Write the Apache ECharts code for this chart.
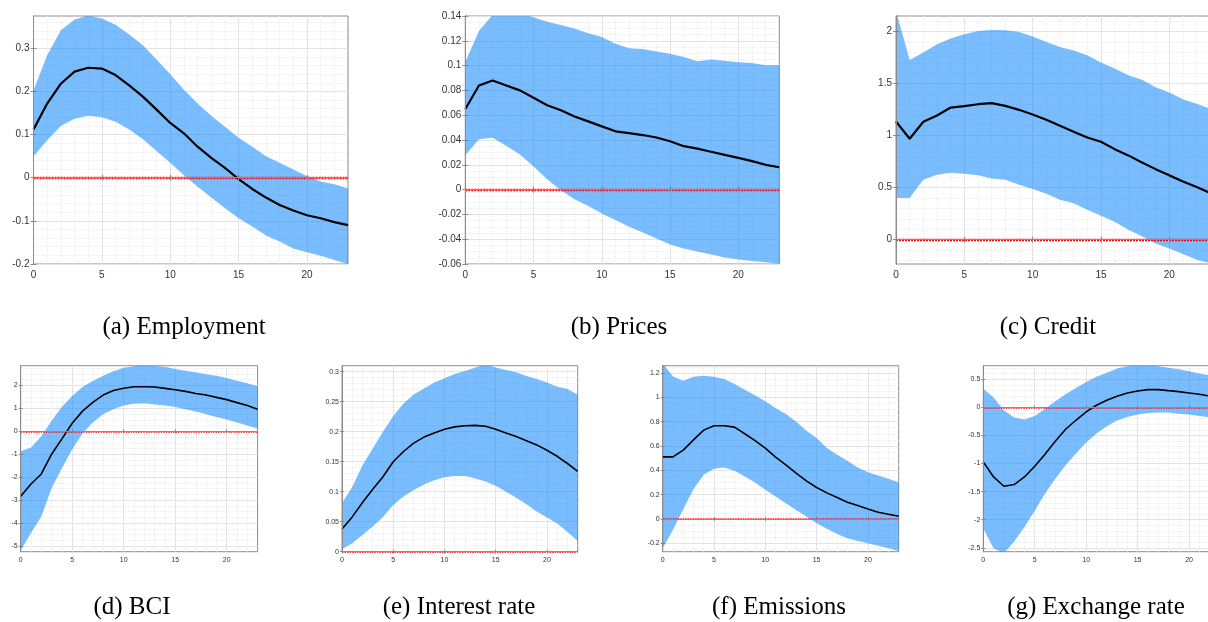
<!DOCTYPE html>
<html>
<head>
<meta charset="utf-8">
<script src="https://cdn.jsdelivr.net/npm/echarts@6/dist/echarts.min.js"></script>
<style>
html,body{margin:0;padding:0;background:#ffffff;}
#chart{width:1208px;height:622px;}
</style>
</head>
<body>
<div id="chart"></div>
<script>
// ---------------- DATA ----------------
const horizons = [0,1,2,3,4,5,6,7,8,9,10,11,12,13,14,15,16,17,18,19,20,21,22,23];
const xTickStep = 5;
const zeroLine = 0;

const employmentMean  = [0.112,0.172,0.218,0.246,0.255,0.253,0.238,0.214,0.188,0.158,0.127,0.103,0.072,0.046,0.023,-0.003,-0.026,-0.046,-0.063,-0.076,-0.087,-0.094,-0.103,-0.110];
const employmentUpper = [0.203,0.284,0.342,0.367,0.376,0.369,0.355,0.332,0.307,0.274,0.240,0.204,0.172,0.144,0.118,0.093,0.072,0.050,0.035,0.019,0.004,-0.009,-0.015,-0.025];
const employmentLower = [0.049,0.087,0.120,0.137,0.144,0.140,0.130,0.112,0.089,0.062,0.035,0.006,-0.021,-0.046,-0.071,-0.094,-0.113,-0.134,-0.148,-0.164,-0.173,-0.181,-0.191,-0.200];

const pricesMean  = [0.065,0.084,0.088,0.084,0.080,0.074,0.068,0.064,0.059,0.055,0.051,0.047,0.0456,0.044,0.042,0.039,0.035,0.033,0.0305,0.028,0.0256,0.023,0.020,0.018];
const pricesUpper = [0.103,0.128,0.141,0.143,0.142,0.139,0.1354,0.1327,0.130,0.126,0.123,0.1176,0.114,0.1133,0.1114,0.1095,0.107,0.1036,0.105,0.104,0.1028,0.102,0.1003,0.1003];
const pricesLower = [0.0278,0.0407,0.0418,0.0353,0.0283,0.0186,0.0084,-0.0005,-0.0078,-0.0132,-0.0192,-0.0245,-0.030,-0.0345,-0.0394,-0.0442,-0.0475,-0.050,-0.0523,-0.0548,-0.0564,-0.0575,-0.0585,-0.0596];

const creditMean  = [1.136,0.97,1.133,1.194,1.27,1.283,1.302,1.312,1.286,1.248,1.203,1.152,1.094,1.037,0.982,0.941,0.870,0.810,0.742,0.678,0.618,0.560,0.506,0.448];
const creditUpper = [2.2,1.728,1.80,1.878,1.933,1.974,2.006,2.016,2.013,1.997,1.952,1.90,1.853,1.818,1.773,1.702,1.645,1.58,1.536,1.466,1.414,1.35,1.306,1.258];
const creditLower = [0.40,0.40,0.576,0.624,0.643,0.634,0.618,0.589,0.576,0.528,0.486,0.442,0.384,0.349,0.288,0.230,0.173,0.096,0.032,-0.038,-0.086,-0.138,-0.192,-0.224];

const bciMean  = [-2.83,-2.30,-1.86,-1.00,-0.33,0.35,0.88,1.26,1.58,1.78,1.88,1.94,1.94,1.93,1.87,1.81,1.74,1.65,1.58,1.48,1.38,1.25,1.12,0.96];
const bciUpper = [-0.87,-0.71,-0.22,0.46,1.07,1.54,1.93,2.19,2.42,2.62,2.77,2.84,2.88,2.85,2.81,2.72,2.64,2.57,2.49,2.42,2.32,2.20,2.09,1.96];
const bciLower = [-5.2,-4.43,-3.72,-2.48,-1.61,-0.78,-0.10,0.38,0.74,0.96,1.12,1.20,1.22,1.17,1.12,1.06,0.96,0.86,0.74,0.62,0.51,0.38,0.25,0.12];

const interestMean  = [0.038,0.058,0.082,0.104,0.125,0.150,0.167,0.181,0.191,0.198,0.204,0.208,0.210,0.2106,0.209,0.204,0.198,0.192,0.185,0.178,0.169,0.159,0.147,0.134];
const interestUpper = [0.081,0.108,0.144,0.172,0.200,0.226,0.247,0.262,0.272,0.282,0.289,0.296,0.301,0.307,0.312,0.307,0.303,0.299,0.293,0.288,0.282,0.275,0.271,0.262];
const interestLower = [0.004,0.014,0.028,0.042,0.058,0.078,0.092,0.103,0.112,0.119,0.124,0.126,0.126,0.122,0.117,0.110,0.100,0.090,0.079,0.067,0.057,0.047,0.033,0.018];

const emissionsMean  = [0.51,0.51,0.566,0.65,0.73,0.766,0.766,0.755,0.70,0.643,0.582,0.508,0.445,0.376,0.313,0.258,0.214,0.176,0.137,0.11,0.082,0.055,0.038,0.022];
const emissionsUpper = [1.28,1.172,1.137,1.17,1.178,1.17,1.15,1.11,1.063,1.016,0.967,0.912,0.862,0.80,0.725,0.665,0.582,0.527,0.478,0.423,0.384,0.357,0.33,0.302];
const emissionsLower = [-0.242,-0.09,0.08,0.244,0.362,0.412,0.423,0.395,0.349,0.30,0.239,0.184,0.129,0.074,0.019,-0.036,-0.082,-0.124,-0.159,-0.181,-0.20,-0.222,-0.242,-0.264];

const exchangeMean  = [-0.972,-1.24,-1.405,-1.375,-1.24,-1.05,-0.836,-0.605,-0.391,-0.231,-0.083,0.036,0.124,0.196,0.255,0.29,0.314,0.314,0.296,0.279,0.255,0.231,0.20,0.178];
const exchangeUpper = [0.332,0.172,-0.053,-0.184,-0.219,-0.154,-0.024,0.107,0.231,0.344,0.45,0.545,0.616,0.688,0.73,0.75,0.75,0.73,0.705,0.676,0.64,0.60,0.57,0.53];
const exchangeLower = [-2.16,-2.51,-2.6,-2.39,-2.13,-1.84,-1.535,-1.27,-1.03,-0.824,-0.628,-0.468,-0.338,-0.237,-0.172,-0.13,-0.10,-0.095,-0.095,-0.113,-0.13,-0.154,-0.178,-0.20];

const captions = ['(a) Employment','(b) Prices','(c) Credit','(d) BCI','(e) Interest rate','(f) Emissions','(g) Exchange rate'];

// y-axis ranges and tick steps
const yMins  = [-0.2, -0.06, -0.234, -5.25, 0, -0.27, -2.57];
const yMaxs  = [0.375, 0.14, 2.15, 2.86, 0.31, 1.26, 0.74];
const ySteps = [0.1, 0.02, 0.5, 1, 0.05, 0.2, 0.5];
const yMinorSplits = [5, 4, 5, 4, 5, 4, 5];

const seriesSets = [
  [employmentMean, employmentUpper, employmentLower],
  [pricesMean, pricesUpper, pricesLower],
  [creditMean, creditUpper, creditLower],
  [bciMean, bciUpper, bciLower],
  [interestMean, interestUpper, interestLower],
  [emissionsMean, emissionsUpper, emissionsLower],
  [exchangeMean, exchangeUpper, exchangeLower]
];

// ---------------- LAYOUT / STYLE ----------------
const gridRects = [
  {left:33.5, top:16, width:314.5, height:248, row:0},
  {left:465.3, top:16, width:314, height:248, row:0},
  {left:896, top:16, width:314.3, height:248, row:0},
  {left:20.7, top:365.7, width:236.9, height:186, row:1},
  {left:342, top:365.7, width:235.7, height:186, row:1},
  {left:662.7, top:365.7, width:236, height:186, row:1},
  {left:983.3, top:365.7, width:236.6, height:186, row:1}
];
const captionPos = [
  {x:184, y:327.5},{x:619, y:327.5},{x:1048, y:327.5},
  {x:132, y:607},{x:459, y:607},{x:779, y:607},{x:1096, y:607}
];
const rowStyle = [
  {font:10, yMargin:4, xMargin:6, meanW:2.2, zeroW:2.4, dash:[2,1], tick:3},
  {font:7, yMargin:3, xMargin:5, meanW:1.6, zeroW:1.6, dash:[1.5,1], tick:2}
];
const bandColor = 'rgba(0,128,255,0.52)';
const boxColor = '#8c8c8c';
const majorGrid = '#e3e3e3';
const minorGrid = '#e6e6e6';
const labelColor = '#333333';
const labelFont = '"Liberation Sans", Arial, sans-serif';

function isMultiple(v, step){ const r = v/step; return Math.abs(r - Math.round(r)) < 1e-6; }
function fmt(v, step){
  if (!isMultiple(v, step)) return '';
  let s = String(parseFloat(v.toFixed(6)));
  if (s === '-0') s = '0';
  return s;
}
function multiplesIn(lo, hi, step){
  const out = [];
  for (let k = Math.ceil(lo/step - 1e-9); k*step <= hi + 1e-9; k++) out.push(parseFloat((k*step).toFixed(6)));
  return out;
}

const chart = echarts.init(document.getElementById('chart'), null, {renderer:'canvas'});
const option = {animation:false, grid:[], xAxis:[], yAxis:[], series:[], graphic:[]};
const xMin = horizons[0], xMax = horizons[horizons.length-1];
const xTicks = multiplesIn(xMin, xMax, xTickStep);

seriesSets.forEach(function(set, i){
  const mean = set[0], upper = set[1], lower = set[2];
  const g = gridRects[i];
  const st = rowStyle[g.row];
  option.grid.push({left:g.left, top:g.top, width:g.width, height:g.height, show:true,
    outerBoundsMode:'none', containLabel:false,
    borderColor:boxColor, borderWidth:1, backgroundColor:'transparent'});

  const yStep = ySteps[i];
  const yMinMult = isMultiple(yMins[i], yStep);
  const yTickCfg = yMinMult ? {interval:yStep} : {splitNumber: Math.round((yMaxs[i]-yMins[i])/yStep)};
  const yTicks = multiplesIn(yMins[i], yMaxs[i], yStep);

  // main x axis (bottom)
  option.xAxis.push({type:'value', gridIndex:i, min:xMin, max:xMax, interval:xTickStep,
    position:'bottom',
    axisLine:{show:true, lineStyle:{color:boxColor, width:1}},
    axisTick:{show:true, inside:true, length:st.tick, lineStyle:{color:boxColor}, customValues:xTicks},
    axisLabel:{show:true, margin:st.xMargin, color:labelColor, fontSize:st.font, fontFamily:labelFont,
      formatter:function(v){ return fmt(v, xTickStep); }},
    splitLine:{show:true, lineStyle:{color:majorGrid, width:1}},
    minorTick:{show:false, splitNumber:5},
    minorSplitLine:{show:true, lineStyle:{color:minorGrid, width:1, type:[1,1.5]}}
  });
  // mirror x axis (top)
  option.xAxis.push({type:'value', gridIndex:i, min:xMin, max:xMax, interval:xTickStep,
    position:'top', z:5,
    axisLine:{show:true, lineStyle:{color:boxColor, width:1}},
    axisTick:{show:true, inside:true, length:st.tick, lineStyle:{color:boxColor}, customValues:xTicks},
    axisLabel:{show:false}, splitLine:{show:false}
  });
  // main y axis (left)
  option.yAxis.push(Object.assign({type:'value', gridIndex:i, min:yMins[i], max:yMaxs[i], position:'left',
    axisLine:{show:true, lineStyle:{color:boxColor, width:1}},
    axisTick:{show:true, inside:true, length:st.tick, lineStyle:{color:boxColor}, customValues:yTicks},
    axisLabel:{show:true, margin:st.yMargin, color:labelColor, fontSize:st.font, fontFamily:labelFont,
      formatter:function(v){ return fmt(v, yStep); }},
    splitLine:{show:true, lineStyle:{color:majorGrid, width:1}},
    minorTick:{show:false, splitNumber:yMinorSplits[i]},
    minorSplitLine:{show:true, lineStyle:{color:minorGrid, width:1, type:[1,1.5]}}
  }, yTickCfg));
  // mirror y axis (right)
  option.yAxis.push(Object.assign({type:'value', gridIndex:i, min:yMins[i], max:yMaxs[i], position:'right', z:5,
    axisLine:{show:true, lineStyle:{color:boxColor, width:1}},
    axisTick:{show:true, inside:true, length:st.tick, lineStyle:{color:boxColor}, customValues:yTicks},
    axisLabel:{show:false}, splitLine:{show:false}
  }, yTickCfg));

  const xi = i*2, yi = i*2;
  // confidence band
  option.series.push({
    type:'custom', xAxisIndex:xi, yAxisIndex:yi, clip:true, silent:true, z:1,
    data: horizons.map(function(h,k){ return [h, lower[k], upper[k]]; }),
    encode:{x:0, y:[1,2]},
    renderItem:function(params, api){
      if (params.dataIndex !== 0) return null;
      const pts = [];
      for (let k = 0; k < horizons.length; k++) pts.push(api.coord([horizons[k], upper[k]]));
      for (let k = horizons.length-1; k >= 0; k--) pts.push(api.coord([horizons[k], lower[k]]));
      return {type:'polygon', shape:{points:pts}, style:{fill:bandColor, stroke:null}};
    }
  });
  // mean response
  option.series.push({
    type:'line', xAxisIndex:xi, yAxisIndex:yi, z:3, silent:true,
    data: horizons.map(function(h,k){ return [h, mean[k]]; }),
    symbol:'none', smooth:false,
    lineStyle:{color:'#000000', width:st.meanW},
    markLine:{silent:true, symbol:['none','none'], label:{show:false}, animation:false,
      lineStyle:{color:'#ff0000', width:st.zeroW, type:st.dash},
      emphasis:{disabled:true},
      data:[{yAxis:zeroLine}]}
  });

  option.graphic.push({type:'text', x:captionPos[i].x, y:captionPos[i].y, silent:true,
    style:{text:captions[i], font:'25px "Liberation Serif", "Times New Roman", serif', fill:'#000000',
      align:'center', verticalAlign:'middle'}});
});

chart.setOption(option);
</script>
</body>
</html>
